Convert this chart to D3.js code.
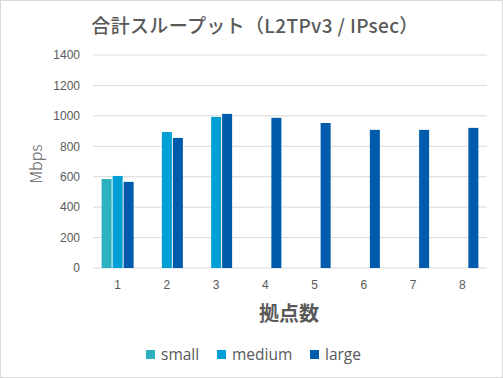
<!DOCTYPE html>
<html>
<head>
<meta charset="utf-8">
<script src="https://cdn.jsdelivr.net/npm/d3@7"></script>
<style>
  html, body { margin: 0; padding: 0; background: #fff; }
  svg { display: block; font-family: "Noto Sans CJK JP", "Noto Sans", sans-serif; }
</style>
</head>
<body>
<div id="chart"></div>
<script>
// ---- Data ----
const sites = ["1", "2", "3", "4", "5", "6", "7", "8"];
const seriesNames = ["small", "medium", "large"];
const smallVals = [585, null, null, null, null, null, null, null];
const mediumVals = [605, 894, 993, null, null, null, null, null];
const largeVals = [566, 855, 1013, 987, 953, 908, 908, 921];
const yTicks = [0, 200, 400, 600, 800, 1000, 1200, 1400];
const colors = ["#2cb1c0", "#009fd5", "#005bac"];

const W = 503, H = 378;
const margin = { top: 55, right: 16, bottom: 110, left: 93 };
const width = W - margin.left - margin.right;
const height = H - margin.top - margin.bottom;

const root = d3.select("#chart").append("svg")
  .attr("width", W).attr("height", H);

// chart frame
root.append("rect")
  .attr("x", 0.5).attr("y", 0.5)
  .attr("width", W - 1).attr("height", H - 1)
  .attr("fill", "#fff").attr("stroke", "#d9d9d9");

const svg = root.append("g")
  .attr("transform", `translate(${margin.left},${margin.top})`);

// ---- Scales ----
const x0 = d3.scaleBand().domain(sites).range([0, width]).padding(0);
const groupW = 32;
const x1 = d3.scaleBand().domain(seriesNames)
  .range([(x0.bandwidth() - groupW) / 2, (x0.bandwidth() + groupW) / 2])
  .paddingInner(0.09);
const y = d3.scaleLinear().domain([0, 1400]).range([height, 0]);

// ---- Gridlines ----
svg.selectAll(".grid")
  .data(yTicks)
  .join("line")
  .attr("x1", 0).attr("x2", width)
  .attr("y1", d => y(d)).attr("y2", d => y(d))
  .attr("stroke", "#d9d9d9").attr("stroke-width", 1);

// ---- Bars ----
const rows = [];
[smallVals, mediumVals, largeVals].forEach((vals, si) => {
  vals.forEach((v, i) => {
    if (v != null) rows.push({ site: sites[i], series: seriesNames[si], value: v, si });
  });
});

svg.selectAll(".bar")
  .data(rows)
  .join("rect")
  .attr("x", d => x0(d.site) + x1(d.series))
  .attr("width", x1.bandwidth())
  .attr("y", d => y(d.value))
  .attr("height", d => y(0) - y(d.value))
  .attr("fill", d => colors[d.si]);

// ---- Axes ----
const tickFont = "'Liberation Sans', Arial, sans-serif";
const yAxis = svg.append("g")
  .call(d3.axisLeft(y).tickValues(yTicks).tickFormat(d3.format("d"))
    .tickSize(0).tickPadding(13));
yAxis.select(".domain").remove();
yAxis.selectAll("text")
  .attr("fill", "#595959").attr("font-size", 12)
  .attr("font-family", tickFont);

const xAxis = svg.append("g")
  .attr("transform", `translate(0,${height})`)
  .call(d3.axisBottom(x0).tickSize(0).tickPadding(12));
xAxis.select(".domain").remove();
xAxis.selectAll("text")
  .attr("fill", "#595959").attr("font-size", 12)
  .attr("font-family", tickFont);

// ---- Titles ----
root.append("text")
  .attr("x", 255).attr("y", 33)
  .attr("text-anchor", "middle")
  .attr("fill", "#595959").attr("font-size", 19).attr("font-weight", 500)
  .attr("letter-spacing", 0.35)
  .text("合計スループット（L2TPv3 / IPsec）");

root.append("text")
  .attr("x", 289).attr("y", 321)
  .attr("text-anchor", "middle")
  .attr("fill", "#595959").attr("font-size", 20).attr("font-weight", "bold")
  .text("拠点数");

root.append("text")
  .attr("transform", "translate(42,164) rotate(-90)")
  .attr("text-anchor", "middle")
  .attr("fill", "#595959").attr("font-size", 16).attr("font-weight", 300)
  .attr("font-family", "'Noto Sans CJK JP', 'Noto Sans', sans-serif")
  .text("Mbps");

// ---- Legend ----
const legendX = [146, 217, 310];
const legend = root.selectAll(".legend")
  .data(seriesNames)
  .join("g")
  .attr("transform", (d, i) => `translate(${legendX[i]},350)`);
legend.append("rect")
  .attr("width", 9).attr("height", 9)
  .attr("fill", (d, i) => colors[i]);
legend.append("text")
  .attr("x", 15).attr("y", 10)
  .attr("fill", "#595959").attr("font-size", 15.5)
  .attr("font-family", "'Open Sans', 'Noto Sans', sans-serif")
  .text(d => d);
</script>
</body>
</html>
